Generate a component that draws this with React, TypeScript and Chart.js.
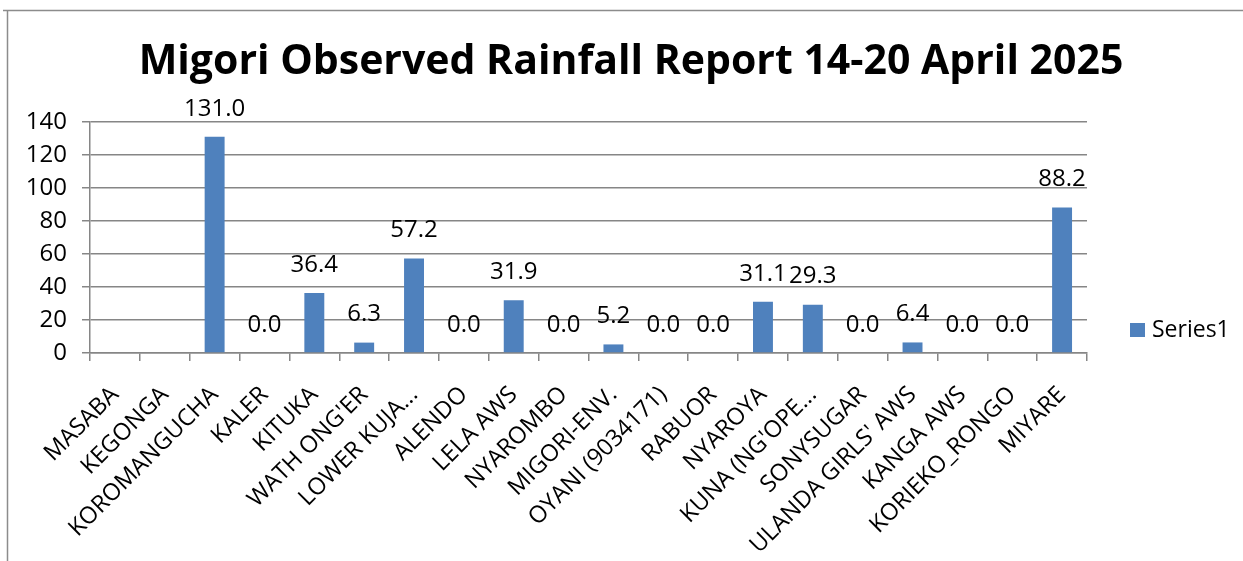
import React, { useEffect, useRef } from "react";
import { Chart, registerables } from "chart.js";

Chart.register(...registerables);

const categories = [
  "MASABA", "KEGONGA", "KOROMANGUCHA", "KALER", "KITUKA", "WATH ONG'ER",
  "LOWER KUJA...", "ALENDO", "LELA AWS", "NYAROMBO", "MIGORI-ENV.",
  "OYANI (9034171)", "RABUOR", "NYAROYA", "KUNA (NG'OPE...", "SONYSUGAR",
  "ULANDA GIRLS' AWS", "KANGA AWS", "KORIEKO_RONGO", "MIYARE",
];
const series1: (number | null)[] = [
  null, null, 131.0, 0.0, 36.4, 6.3, 57.2, 0.0, 31.9, 0.0, 5.2, 0.0, 0.0,
  31.1, 29.3, 0.0, 6.4, 0.0, 0.0, 88.2,
];
const seriesName = "Series1";
const titleText = "Migori Observed Rainfall Report 14-20 April 2025";
const yTicks = { min: 0, max: 140, step: 20 };

const FONT = "'Open Sans', 'Noto Sans', sans-serif";
const BAR = "#4F81BD";
const GRID = "#868686";

const framePlugin = {
  id: "frame",
  beforeDraw(chart: any) {
    const ctx = chart.ctx;
    ctx.save();
    ctx.fillStyle = "#ffffff";
    ctx.fillRect(0, 0, chart.width, chart.height);
    ctx.strokeStyle = "#8c8c8c";
    ctx.lineWidth = 1.5;
    ctx.beginPath();
    ctx.moveTo(3, 10.5);
    ctx.lineTo(chart.width, 10.5);
    ctx.moveTo(7.5, 10);
    ctx.lineTo(7.5, chart.height);
    ctx.stroke();
    ctx.fillStyle = "#000000";
    ctx.font = `bold 41px ${FONT}`;
    ctx.textAlign = "center";
    ctx.textBaseline = "middle";
    ctx.fillText(chart.options.plugins.customTitle.text, 631, 62);
    ctx.restore();
  },
};

const labelsPlugin = {
  id: "barLabels",
  afterDatasetsDraw(chart: any) {
    const ctx = chart.ctx;
    const meta = chart.getDatasetMeta(0);
    const data = chart.data.datasets[0].data;
    ctx.save();
    ctx.font = `24px ${FONT}`;
    ctx.fillStyle = "#000000";
    ctx.textAlign = "center";
    ctx.textBaseline = "middle";
    meta.data.forEach((el: any, i: number) => {
      const v = data[i];
      if (v === null || v === undefined) return;
      ctx.fillText(Number(v).toFixed(1), el.x, el.y - 28);
    });
    const area = chart.chartArea;
    const cy = 330;
    const lx = area.right + 43;
    ctx.font = `23px ${FONT}`;
    ctx.fillStyle = BAR;
    ctx.fillRect(lx, cy - 7, 15, 14);
    ctx.fillStyle = "#000000";
    ctx.textAlign = "left";
    ctx.fillText(chart.data.datasets[0].label, lx + 22, cy);
    ctx.restore();
  },
};

export default function App() {
  const ref = useRef<HTMLCanvasElement>(null);
  useEffect(() => {
    document.body.style.margin = "0";
    const chart = new Chart(ref.current!, {
      type: "bar",
      data: {
        labels: categories,
        datasets: [
          {
            label: seriesName,
            data: series1,
            backgroundColor: BAR,
            barPercentage: 0.4,
            categoryPercentage: 1,
          },
        ],
      },
      options: {
        animation: false,
        responsive: false,
        layout: { padding: { left: 0, right: 156, top: 122, bottom: 0 } },
        plugins: {
          legend: { display: false },
          tooltip: { enabled: false },
          title: { display: false },
          customTitle: { text: titleText },
        } as any,
        scales: {
          x: {
            grid: {
              display: true,
              drawOnChartArea: false,
              drawTicks: true,
              tickLength: 8,
              color: GRID,
              lineWidth: 1.5,
            },
            border: { display: true, color: GRID, width: 1.5 },
            ticks: {
              autoSkip: false,
              maxRotation: 45,
              minRotation: 45,
              padding: 20,
              color: "#000000",
              font: { family: FONT, size: 23.5 },
            },
            afterFit(scale: any) {
              scale.height = 561 - 353;
            },
          },
          y: {
            min: yTicks.min,
            max: yTicks.max,
            grid: {
              color: GRID,
              lineWidth: 1.5,
              tickLength: 8,
            },
            border: { display: true, color: GRID, width: 1.5 },
            ticks: {
              stepSize: yTicks.step,
              padding: 15,
              color: "#000000",
              font: { family: FONT, size: 24 },
            },
            afterFit(scale: any) {
              scale.width = 90;
            },
          },
        },
      },
      plugins: [framePlugin, labelsPlugin],
    });
    return () => chart.destroy();
  }, []);
  return (
    <div style={{ position: "absolute", left: 0, top: 0, width: 1243, height: 561 }}>
      <canvas ref={ref} width={1243} height={561} />
    </div>
  );
}
